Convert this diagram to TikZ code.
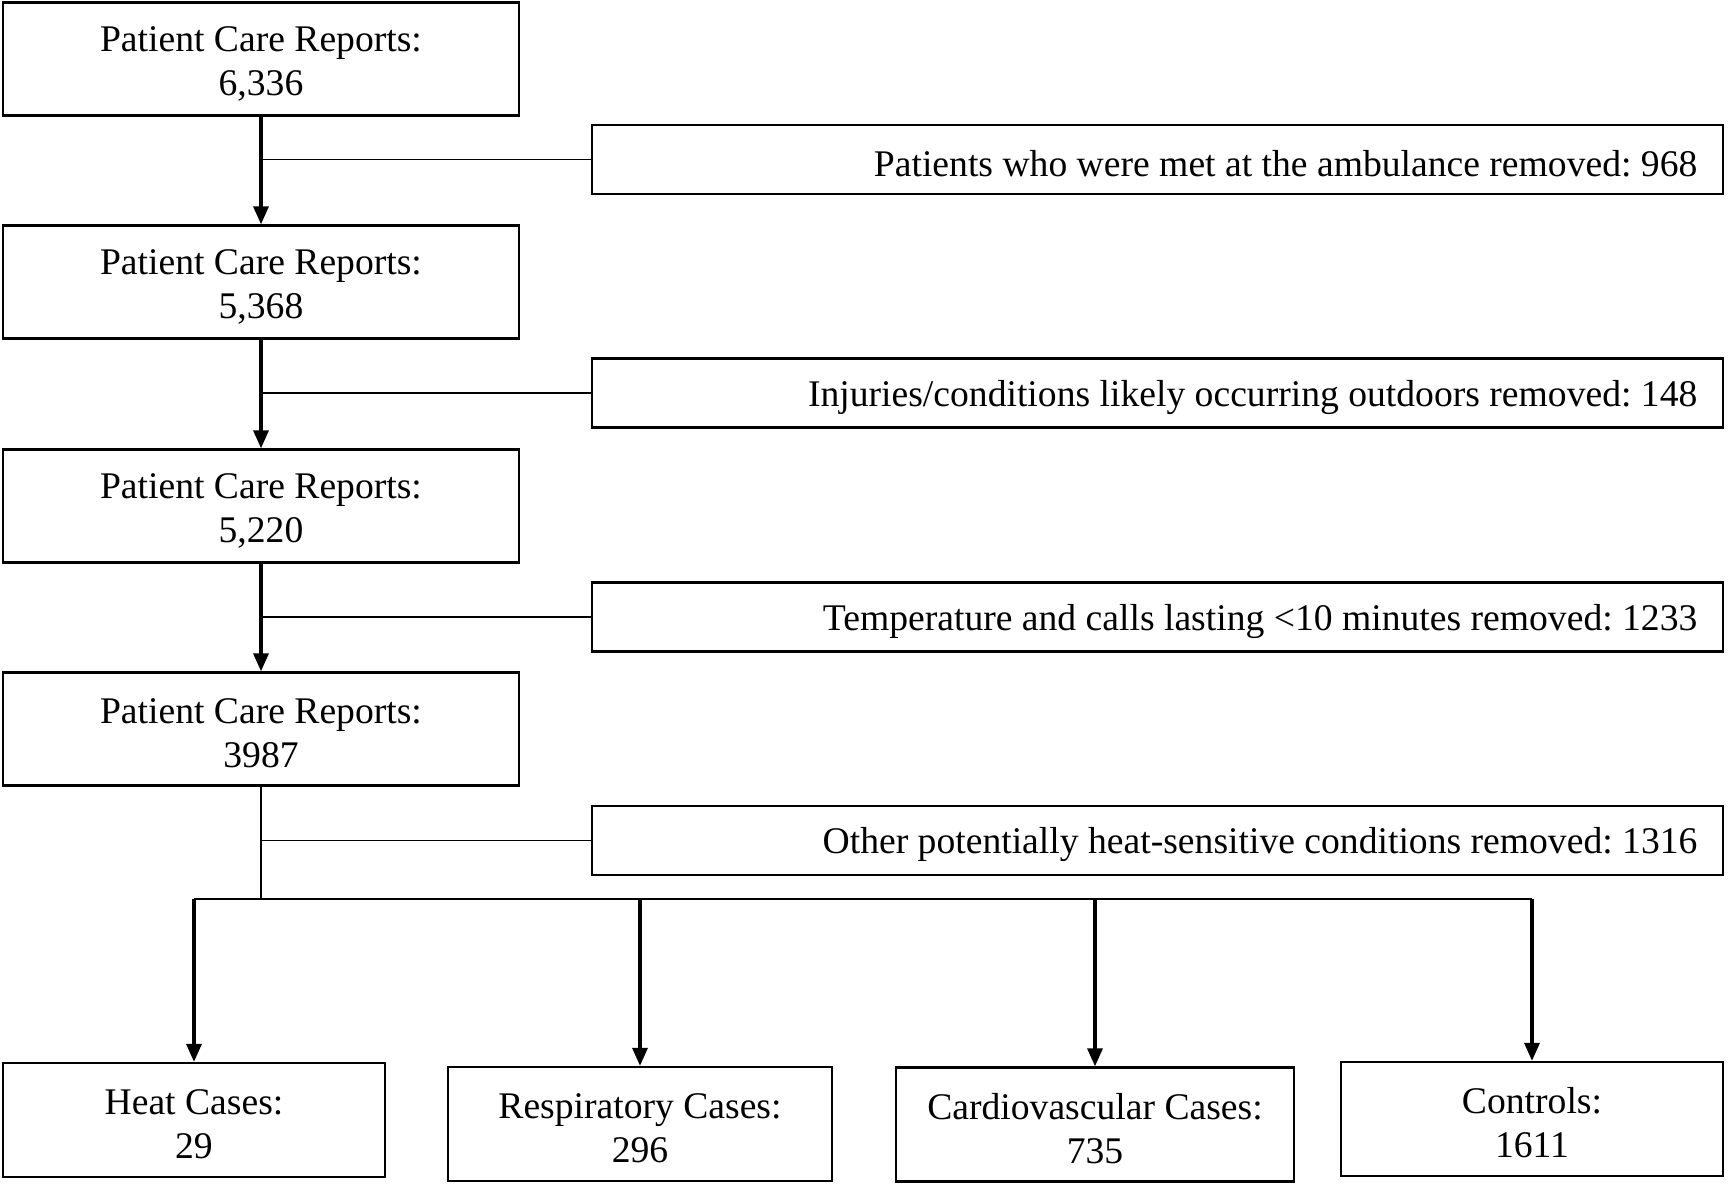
\documentclass[tikz,border=0pt]{standalone}
\usepackage{fontspec}
\setmainfont{Liberation Serif}
\usetikzlibrary{arrows.meta,positioning}

\tikzset{
  report/.style={draw, line width=0.65pt, minimum width=5.16cm, minimum height=1.13cm,
    inner sep=0pt, text width=5.16cm, align=flush center,
    font=\fontsize{10.7}{12.5}\selectfont\frenchspacing,
    execute at begin node={\rule{0pt}{9.7pt}}},
  removed/.style={draw, line width=0.65pt, minimum height=0.69cm, inner ysep=0pt,
    inner xsep=0.26cm, text width=10.79cm, align=flush right,
    font=\fontsize{10.7}{12.5}\selectfont\frenchspacing,
    execute at begin node={\rule{0pt}{9.7pt}}},
  group/.style={report, minimum height=1.14cm, minimum width=#1, text width=#1,
    execute at begin node={\rule{0pt}{8.8pt}}},
  flow/.style={line width=0.95pt, -{Triangle[length=0.18cm,width=0.15cm]}},
  side/.style={line width=0.5pt}
}

\begin{document}
\begin{tikzpicture}[x=0.01cm,y=-0.01cm]
				\useasboundingbox (0,0) rectangle (1733,1184);
				% main column
				\node[report] (pcr1) at (261,59) {Patient Care Reports:\\6,336};
				\node[report] (pcr2) at (261,282) {Patient Care Reports:\\5,368};
				\node[report] (pcr3) at (261,506) {Patient Care Reports:\\5,220};
				\node[report] (pcr4) at (261,729) {Patient Care Reports:\\3987};
				% exclusions
				\node[removed] (rm1) at (1157.5,159.5) {Patients who were met at the ambulance removed: 968};
				\node[removed] (rm2) at (1157.5,393) {Injuries/conditions likely occurring outdoors removed: 148};
				\node[removed] (rm3) at (1157.5,617) {Temperature and calls lasting <10 minutes removed: 1233};
				\node[removed] (rm4) at (1157.5,840.5) {Other potentially heat-sensitive conditions removed: 1316};
				% groups
				\node[group=3.82cm] (heat) at (194,1120) {Heat Cases:\\29};
				\node[group=3.84cm] (resp) at (640,1124) {Respiratory Cases:\\296};
				\node[group=3.98cm] (cardio) at (1095,1124.5) {Cardiovascular Cases:\\735};
				\node[group=3.82cm] (ctrl) at (1532,1119) {Controls:\\1611};
				\draw[flow] (pcr1) -- (pcr2);
				\draw[flow] (pcr2) -- (pcr3);
				\draw[flow] (pcr3) -- (pcr4);
				\foreach \a/\r in {pcr1/rm1,pcr2/rm2,pcr3/rm3,pcr4/rm4}
				\draw[side] (\a.south |- \r.west) -- (\r.west);
				\coordinate (split) at (261,899);
				\draw[side] (pcr4.south) -- (split);
				\draw[side] (heat.north |- split) -- (ctrl.north |- split);
				\foreach \g in {heat,resp,cardio,ctrl}
				\draw[flow] (\g.north |- split) -- (\g.north);
			\end{tikzpicture}
\end{document}
